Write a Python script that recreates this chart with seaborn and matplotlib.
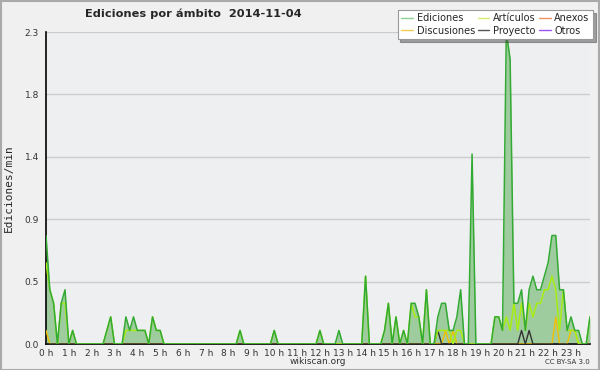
import seaborn as sns
import matplotlib.pyplot as plt
import numpy as np
import pandas as pd
from matplotlib.lines import Line2D
from matplotlib.patches import Rectangle
from matplotlib.ticker import FixedLocator, MultipleLocator

# edits per minute, 10-minute bins, one row per hour
ediciones = [
    [0.8, 0.4, 0.3, 0.0, 0.3, 0.4],  # 0 h
    [0.0, 0.1, 0.0, 0.0, 0.0, 0.0],
    [0.0, 0.0, 0.0, 0.0, 0.1, 0.2],
    [0.0, 0.0, 0.0, 0.2, 0.1, 0.2],
    [0.1, 0.1, 0.1, 0.0, 0.2, 0.1],
    [0.1, 0.0, 0.0, 0.0, 0.0, 0.0],  # 5 h
    [0.0, 0.0, 0.0, 0.0, 0.0, 0.0],
    [0.0, 0.0, 0.0, 0.0, 0.0, 0.0],
    [0.0, 0.0, 0.0, 0.1, 0.0, 0.0],
    [0.0, 0.0, 0.0, 0.0, 0.0, 0.0],
    [0.1, 0.0, 0.0, 0.0, 0.0, 0.0],  # 10 h
    [0.0, 0.0, 0.0, 0.0, 0.0, 0.0],
    [0.1, 0.0, 0.0, 0.0, 0.0, 0.1],
    [0.0, 0.0, 0.0, 0.0, 0.0, 0.0],
    [0.5, 0.0, 0.0, 0.0, 0.0, 0.1],
    [0.3, 0.0, 0.2, 0.0, 0.1, 0.0],  # 15 h
    [0.3, 0.3, 0.2, 0.0, 0.4, 0.0],
    [0.0, 0.2, 0.3, 0.3, 0.1, 0.1],
    [0.2, 0.4, 0.0, 0.0, 1.4, 0.0],
    [0.0, 0.0, 0.0, 0.0, 0.2, 0.2],
    [0.1, 2.3, 2.1, 0.3, 0.3, 0.4],  # 20 h
    [0.1, 0.4, 0.5, 0.4, 0.4, 0.5],
    [0.6, 0.8, 0.8, 0.4, 0.4, 0.1],
    [0.2, 0.1, 0.1, 0.0, 0.0, 0.2],
]
articulos = [
    [0.6, 0.4, 0.3, 0.0, 0.3, 0.3],
    [0.0, 0.1, 0.0, 0.0, 0.0, 0.0],
    [0.0, 0.0, 0.0, 0.0, 0.1, 0.2],
    [0.0, 0.0, 0.0, 0.1, 0.1, 0.1],
    [0.1, 0.1, 0.1, 0.0, 0.2, 0.1],
    [0.1, 0.0, 0.0, 0.0, 0.0, 0.0],
    [0.0, 0.0, 0.0, 0.0, 0.0, 0.0],
    [0.0, 0.0, 0.0, 0.0, 0.0, 0.0],
    [0.0, 0.0, 0.0, 0.1, 0.0, 0.0],
    [0.0, 0.0, 0.0, 0.0, 0.0, 0.0],
    [0.1, 0.0, 0.0, 0.0, 0.0, 0.0],
    [0.0, 0.0, 0.0, 0.0, 0.0, 0.0],
    [0.1, 0.0, 0.0, 0.0, 0.0, 0.0],
    [0.0, 0.0, 0.0, 0.0, 0.0, 0.0],
    [0.5, 0.0, 0.0, 0.0, 0.0, 0.1],
    [0.3, 0.0, 0.2, 0.0, 0.1, 0.0],
    [0.3, 0.2, 0.2, 0.0, 0.4, 0.0],
    [0.0, 0.1, 0.1, 0.1, 0.1, 0.0],
    [0.1, 0.1, 0.0, 0.0, 0.0, 0.0],
    [0.0, 0.0, 0.0, 0.0, 0.2, 0.2],
    [0.1, 0.2, 0.1, 0.3, 0.1, 0.3],
    [0.1, 0.3, 0.2, 0.3, 0.3, 0.4],
    [0.4, 0.5, 0.4, 0.1, 0.4, 0.1],
    [0.1, 0.1, 0.0, 0.0, 0.0, 0.2],
]
# sparse series: {bin index: value}
discusiones_pts = {0: 0.1, 105: 0.1, 107: 0.1, 134: 0.2, 138: 0.1, 139: 0.1}
proyecto_pts = {103: 0.1, 125: 0.1, 127: 0.1}

hour_labels = [f"{h} h" for h in range(24)]
y_max = 2.3

n = 144
t = np.arange(n) / 6.0
df = pd.DataFrame({
    "hora": t,
    "Ediciones": np.ravel(ediciones),
    "Artículos": np.ravel(articulos),
    "Discusiones": [discusiones_pts.get(i, 0.0) for i in range(n)],
    "Proyecto": [proyecto_pts.get(i, 0.0) for i in range(n)],
})

sns.set_style("white")
plt.rcParams["font.family"] = ["DejaVu Sans"]

fig = plt.figure(figsize=(6, 3.7), dpi=100, facecolor="#f0f0f0")
ax = fig.add_axes([46 / 600, 1 - 344 / 370, 544 / 600, 312 / 370])
ax.set_facecolor("#eeeff1")

ax.fill_between(df["hora"], df["Ediciones"], color="#9fcc9f", lw=0, zorder=2)
sns.lineplot(data=df, x="hora", y="Ediciones", color="#33aa33", lw=1.1, ax=ax, zorder=5)
sns.lineplot(data=df, x="hora", y="Discusiones", color="#f0c000", lw=1.0, ax=ax, zorder=3)
sns.lineplot(data=df, x="hora", y="Proyecto", color="#333333", lw=1.0, ax=ax, zorder=3)
sns.lineplot(data=df, x="hora", y="Artículos", color="#a6ee10", lw=1.1, ax=ax, zorder=4)

ax.set_xlim(0, t[-1])
ax.set_ylim(0, y_max)
ax.set_xlabel("")
ax.set_ylabel("Ediciones/min", family="DejaVu Sans Mono", fontsize=8, labelpad=8)

ax.set_xticks(range(24))
ax.set_xticklabels(hour_labels)
ax.xaxis.set_minor_locator(MultipleLocator(1 / 6))
yt = np.linspace(0, y_max, 6)
ax.set_yticks(yt)
ax.set_yticklabels([f"{v:.1f}" for v in yt])
ax.yaxis.set_minor_locator(FixedLocator(np.linspace(0, y_max, 21)))
ax.tick_params(axis="both", which="major", labelsize=6.5, colors="black",
               labelcolor="#333333", length=4, width=1, pad=1)
ax.tick_params(axis="both", which="minor", length=3, width=1, colors="black")
ax.tick_params(axis="x", which="both", length=3, pad=0.5)

ax.grid(axis="y", which="major", color="#cccccc", lw=1, zorder=1)
ax.set_axisbelow(True)
for s in ["top", "right"]:
    ax.spines[s].set_visible(False)
for s in ["left", "bottom"]:
    ax.spines[s].set_color("black")
    ax.spines[s].set_linewidth(1.2)

fig.text(85 / 600, 1 - 14 / 370, "Ediciones por ámbito  2014-11-04",
         fontsize=8.2, fontweight="bold", ha="left", va="center")
fig.text(318 / 600, 1 - 361 / 370, "wikiscan.org", fontsize=6.5, color="#333333",
         ha="center", va="center")
fig.text(590 / 600, 1 - 362 / 370, "CC BY-SA 3.0", fontsize=5, color="#333333",
         ha="right", va="center")

names = ["Ediciones", "Discusiones", "Artículos", "Proyecto", "Anexos", "Otros"]
colors = ["#8fd18f", "#f0cc50", "#d4ee70", "#555555", "#f09060", "#9955ee"]
handles = [Line2D([], [], color=c, lw=1) for c in colors]
leg = fig.legend(handles, names, ncol=3, loc="upper right",
                 bbox_to_anchor=(595 / 600, 1 - 8 / 370), fontsize=7,
                 frameon=True, fancybox=False, shadow=True, borderpad=0.35,
                 handlelength=1.2, handletextpad=0.4, columnspacing=0.3,
                 labelspacing=0.25, borderaxespad=0.2)
leg.get_frame().set_edgecolor("#999999")
leg.get_frame().set_linewidth(0.8)

fig.patches.append(Rectangle((0.001, 0.001), 0.997, 0.996, transform=fig.transFigure,
                             fill=False, edgecolor="#aaaaaa", lw=1.5))

fig.savefig("out.png", dpi=100, facecolor=fig.get_facecolor())
